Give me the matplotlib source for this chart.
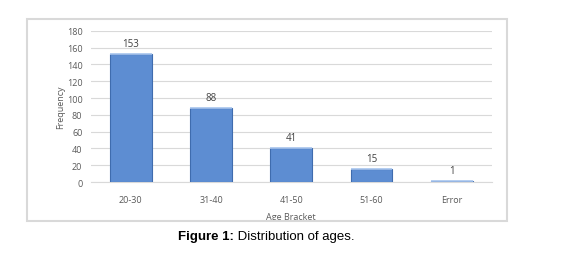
import matplotlib
matplotlib.use("Agg")
import matplotlib.pyplot as plt
from matplotlib.patches import Rectangle

categories = ["20-30", "31-40", "41-50", "51-60", "Error"]
values = [153, 88, 41, 15, 1]
yticks = [0, 20, 40, 60, 80, 100, 120, 140, 160, 180]

fig = plt.figure(figsize=(5.78, 2.55), dpi=100)
fig.patch.set_facecolor("white")

# outer chart frame
fig.add_artist(Rectangle((0.047, 0.129), 0.830, 0.793, transform=fig.transFigure,
                         fill=False, edgecolor="#d9d9d9", linewidth=1.5))

ax = fig.add_axes([0.157, 0.282, 0.694, 0.593])
x = list(range(len(categories)))
bars = ax.bar(x, values, width=0.52, color="#5d8dd2", edgecolor="#3f6cae", linewidth=0.8, zorder=3)
for b in bars:
    ax.plot([b.get_x(), b.get_x() + b.get_width()], [b.get_height(), b.get_height()],
            color="#a9c6ee", linewidth=1.2, zorder=4, solid_capstyle="butt")

for xi, v in zip(x, values):
    ax.text(xi, v + 6, str(v), ha="center", va="bottom", fontsize=7, color="#404040",
            family="Open Sans")

ax.set_xlim(-0.5, len(categories) - 0.5)
ax.set_ylim(0, 180)
ax.set_yticks(yticks)
ax.set_xticks(x)
ax.set_xticklabels(categories)
ax.yaxis.grid(True, color="#d9d9d9", linewidth=0.8, zorder=0)
ax.set_axisbelow(True)
for s in ["top", "right", "left"]:
    ax.spines[s].set_visible(False)
ax.spines["bottom"].set_color("#d9d9d9")
ax.tick_params(length=0, labelsize=6.5, labelcolor="#595959", pad=6)
for lab in ax.get_xticklabels() + ax.get_yticklabels():
    lab.set_family("Open Sans")
ax.tick_params(axis="x", pad=9)
ax.set_xlabel("Age Bracket", fontsize=6.5, color="#595959", family="Open Sans", labelpad=6)
ax.set_ylabel("Frequency", fontsize=6.5, color="#595959", family="Open Sans", labelpad=1)

t1 = fig.text(0.308, 0.07, "Figure 1:", ha="left", va="center", fontsize=9.5,
              family="Liberation Sans", fontweight="bold")
ax.annotate(" Distribution of ages.", xy=(1, 0), xycoords=t1, va="bottom", ha="left",
            fontsize=9.5, family="Liberation Sans", annotation_clip=False)

fig.savefig("out.png", dpi=100)
